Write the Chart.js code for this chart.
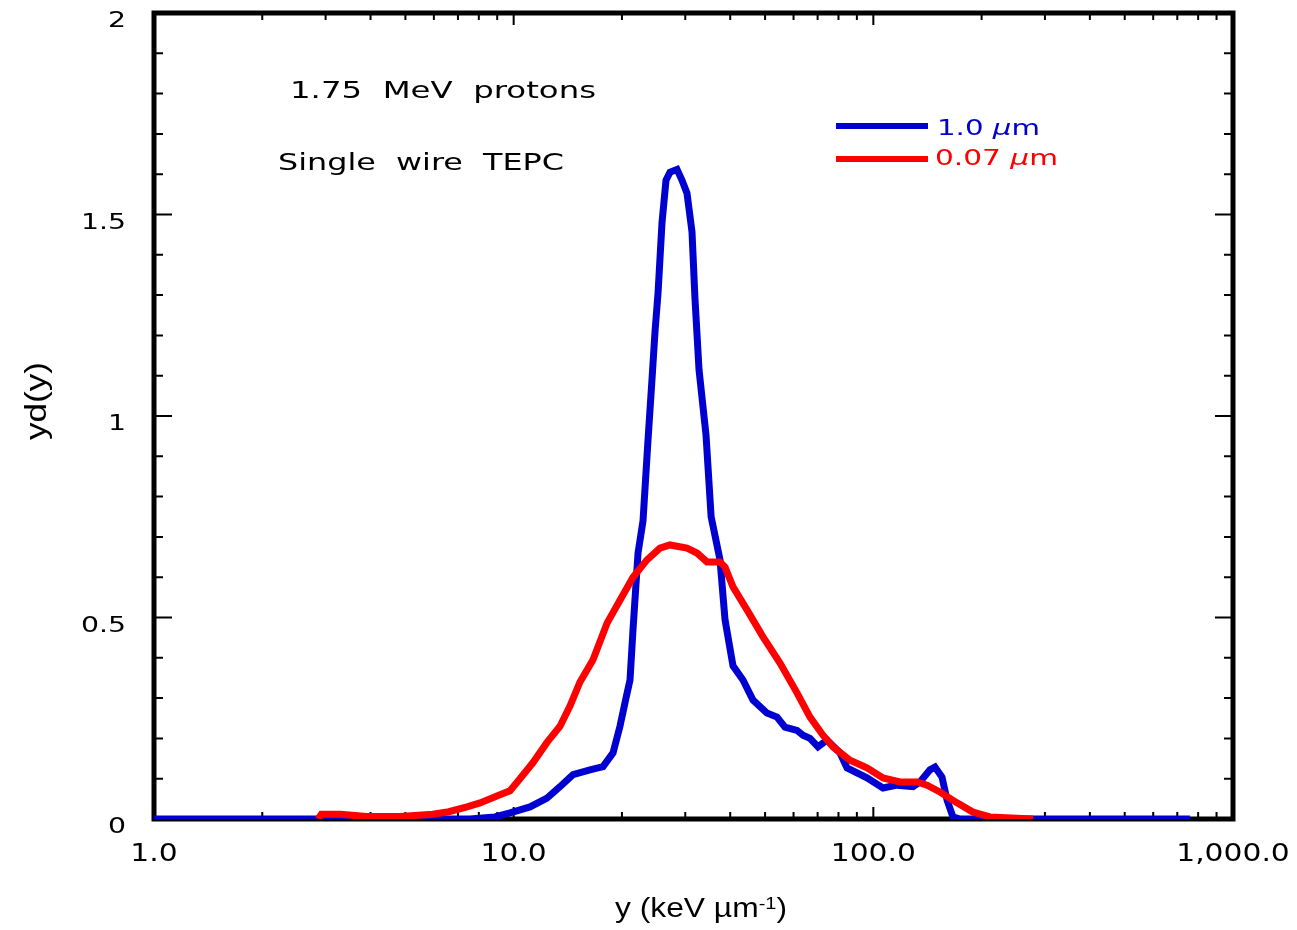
<!DOCTYPE html>
<html>
<head>
<meta charset="utf-8">
<script src="https://cdn.jsdelivr.net/npm/chart.js@4.4.1/dist/chart.umd.min.js"></script>
<style>
  html, body { margin: 0; padding: 0; background: #fff; }
  #wrap { position: relative; width: 1297px; height: 930px; }
</style>
</head>
<body>
<div id="wrap"><canvas id="chart"></canvas></div>
<script>
// 1.0 um site (blue)
const blueX = [1.0, 7.56, 8.87, 9.77, 11.1, 12.38, 13.45, 14.62, 16.3, 17.72, 18.89, 19.75, 20.53, 21.06, 21.47,
  22.17, 22.89, 23.63, 24.24, 24.72, 25.2, 25.85, 26.52, 27.2, 28.46, 29.38, 30.33, 31.32, 31.93, 32.76, 34.26,
  35.4, 37.47, 38.7, 40.72, 43.41, 46.28, 50.6, 53.97, 56.81, 61.34, 63.74, 66.67, 70.17, 74.33, 80.8, 84.5,
  96.0, 106.4, 116.4, 128.9, 134.8, 143.7, 148.4, 155.2, 160.3, 166.5, 174.2, 759];
const blueY = [0, 0, 0.005, 0.015, 0.03, 0.052, 0.08, 0.11, 0.122, 0.13, 0.164, 0.23, 0.30, 0.345, 0.47,
  0.66, 0.74, 0.94, 1.09, 1.21, 1.305, 1.48, 1.585, 1.605, 1.612, 1.585, 1.553, 1.457, 1.29, 1.115, 0.953,
  0.75, 0.643, 0.494, 0.38, 0.345, 0.295, 0.263, 0.253, 0.228, 0.22, 0.208, 0.2, 0.179, 0.196, 0.164, 0.127,
  0.102, 0.077, 0.084, 0.08, 0.092, 0.122, 0.129, 0.104, 0.047, 0.005, 0, 0];

// 0.07 um site (red)
const redX = [2.86, 2.92, 3.3, 3.9, 4.83, 5.96, 6.6, 7.42, 8.06, 9.16, 9.77, 10.41, 11.32, 12.38, 13.45, 14.34,
  15.29, 16.62, 18.18, 19.75, 21.47, 23.48, 25.51, 27.2, 30.33, 32.34, 34.48, 37.47, 38.7, 40.72, 44.54, 49.34,
  55.02, 61.34, 66.67, 72.44, 77.24, 86.1, 96.0, 106.4, 118.6, 132.3, 141.0, 153.2, 170.9, 189.3, 211.1, 277.9];
const redY = [0, 0.012, 0.012, 0.006, 0.006, 0.012, 0.018, 0.03, 0.04, 0.06, 0.07, 0.10, 0.14, 0.19, 0.23, 0.28,
  0.34, 0.395, 0.486, 0.543, 0.60, 0.643, 0.672, 0.68, 0.672, 0.66, 0.638, 0.638, 0.625, 0.576, 0.519, 0.452,
  0.387, 0.313, 0.253, 0.208, 0.179, 0.146, 0.127, 0.102, 0.092, 0.092, 0.084, 0.067, 0.04, 0.017, 0.005, 0];

const xMajorTicks = [1, 10, 100, 1000];
const xTickLabels = ['1.0', '10.0', '100.0', '1,000.0'];
const xMinorTicks = [2, 3, 4, 5, 6, 7, 8, 9, 20, 30, 40, 50, 60, 70, 80, 90, 200, 300, 400, 500, 600, 700, 800, 900];
const yMajorTicks = [0, 0.5, 1, 1.5, 2];
const yTickLabels = ['0', '0.5', '1', '1.5', '2'];
const yMinorTicks = [0.1, 0.2, 0.3, 0.4, 0.6, 0.7, 0.8, 0.9, 1.1, 1.2, 1.3, 1.4, 1.6, 1.7, 1.8, 1.9];

const BLUE = '#0000d0';
const RED = '#ff0000';
const NUM_FONT = '"DejaVu Sans", Verdana, sans-serif';
const TITLE_FONT = '"Liberation Sans", Arial, sans-serif';

const toPoints = (xs, ys) => xs.map((x, i) => ({ x: x, y: ys[i] }));

// draws a run of text pieces, stretched horizontally (sx) or fitted to a width
function drawText(ctx, parts, x, y, o) {
  ctx.save();
  ctx.textBaseline = 'alphabetic';
  ctx.textAlign = 'left';
  ctx.fillStyle = o.color || '#000';
  const fontOf = p => (p.italic ? 'italic ' : '') + (p.size || o.size) + 'px ' + (o.family || NUM_FONT);
  let w = 0;
  parts.forEach(p => { ctx.font = fontOf(p); p.w = ctx.measureText(p.t).width; w += p.w; });
  const sx = o.width ? o.width / w : (o.sx || 1);
  ctx.translate(x, y);
  if (o.rotate) ctx.rotate(o.rotate);
  ctx.scale(sx, 1);
  let cx = o.align === 'right' ? -w : o.align === 'center' ? -w / 2 : 0;
  parts.forEach(p => {
    ctx.font = fontOf(p);
    ctx.fillText(p.t, cx, p.dy || 0);
    cx += p.w;
  });
  ctx.restore();
}

const framePlugin = {
  id: 'frame',
  beforeDatasetsDraw(chart) {
    const { ctx, chartArea: a, scales } = chart;
    const xs = scales.x, ys = scales.y;
    ctx.save();
    ctx.strokeStyle = '#000';
    ctx.lineWidth = 2;
    ctx.beginPath();
    const xt = (v, len) => {
      const px = xs.getPixelForValue(v);
      ctx.moveTo(px, a.bottom); ctx.lineTo(px, a.bottom - len);
      ctx.moveTo(px, a.top); ctx.lineTo(px, a.top + len);
    };
    const yt = (v, len) => {
      const py = ys.getPixelForValue(v);
      ctx.moveTo(a.left, py); ctx.lineTo(a.left + len, py);
      ctx.moveTo(a.right, py); ctx.lineTo(a.right - len, py);
    };
    xMinorTicks.forEach(v => xt(v, 7));
    xMajorTicks.forEach(v => xt(v, 12));
    yMinorTicks.forEach(v => yt(v, 9));
    yMajorTicks.forEach(v => yt(v, 18));
    ctx.stroke();
    ctx.lineWidth = 5;
    ctx.strokeRect(a.left, a.top, a.right - a.left, a.bottom - a.top);
    ctx.restore();

    yMajorTicks.forEach((v, i) => {
      drawText(ctx, [{ t: yTickLabels[i] }], 126, ys.getPixelForValue(v) + 14, { size: 21, sx: 1.35, align: 'right' });
    });
    xMajorTicks.forEach((v, i) => {
      drawText(ctx, [{ t: xTickLabels[i] }], xs.getPixelForValue(v), 861, { size: 24, sx: 1.24, align: 'center' });
    });
  },
  afterDraw(chart) {
    const ctx = chart.ctx;
    drawText(ctx, [{ t: '1.75  MeV  protons' }], 290, 98, { size: 23, width: 306 });
    drawText(ctx, [{ t: 'Single  wire  TEPC' }], 278, 170, { size: 23, width: 286 });

    // legend
    ctx.save();
    ctx.lineWidth = 6;
    ctx.strokeStyle = BLUE;
    ctx.beginPath(); ctx.moveTo(836, 126); ctx.lineTo(928, 126); ctx.stroke();
    ctx.strokeStyle = RED;
    ctx.beginPath(); ctx.moveTo(836, 159); ctx.lineTo(928, 159); ctx.stroke();
    ctx.restore();
    drawText(ctx, [{ t: '1.0 ' }, { t: 'µ', italic: true }, { t: 'm' }], 937, 135, { size: 22, width: 103, color: BLUE });
    drawText(ctx, [{ t: '0.07 ' }, { t: 'µ', italic: true }, { t: 'm' }], 935, 165, { size: 22, width: 123, color: RED });

    // axis titles
    drawText(ctx, [{ t: 'y (keV µm' }, { t: '-1', size: 17, dy: -8 }, { t: ')' }], 701, 917,
      { size: 27, family: TITLE_FONT, width: 172, align: 'center' });
    drawText(ctx, [{ t: 'yd(y)' }], 46, 401,
      { size: 29, family: TITLE_FONT, width: 78, align: 'center', rotate: -Math.PI / 2 });
  }
};

new Chart(document.getElementById('chart'), {
  type: 'line',
  data: {
    datasets: [
      {
        label: '1.0 µm',
        data: toPoints(blueX, blueY),
        borderColor: BLUE,
        borderWidth: 7,
        pointRadius: 0,
        tension: 0,
        order: 1
      },
      {
        label: '0.07 µm',
        data: toPoints(redX, redY),
        borderColor: RED,
        borderWidth: 7,
        pointRadius: 0,
        tension: 0,
        order: 0
      }
    ]
  },
  options: {
    responsive: true,
    maintainAspectRatio: false,
    animation: false,
    layout: { padding: { left: 0, top: 13, right: 64, bottom: 0 } },
    plugins: { legend: { display: false }, tooltip: { enabled: false } },
    scales: {
      x: {
        type: 'logarithmic',
        min: 1,
        max: 1000,
        grid: { display: false, drawTicks: false },
        border: { display: false },
        ticks: { display: false },
        afterFit: s => { s.height = 111; }
      },
      y: {
        min: 0,
        max: 2,
        grid: { display: false, drawTicks: false },
        border: { display: false },
        ticks: { display: false },
        afterFit: s => { s.width = 154; }
      }
    }
  },
  plugins: [framePlugin]
});
</script>
</body>
</html>
